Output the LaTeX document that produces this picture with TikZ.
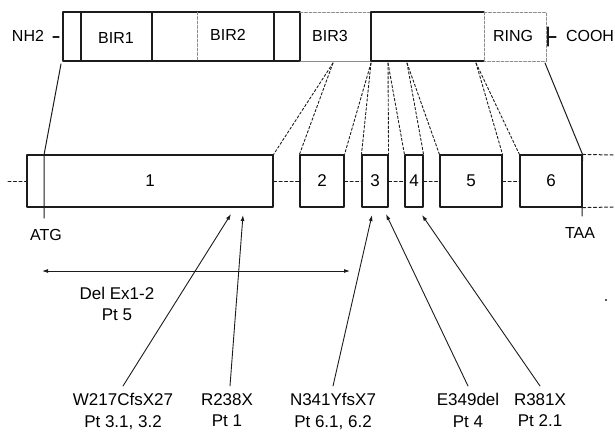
\documentclass[tikz,border=0pt]{standalone}
\usepackage{fontspec}
\setmainfont{Liberation Sans}
\usetikzlibrary{arrows.meta}

\begin{document}
\begin{tikzpicture}[
    >=Latex,
    line cap=round,
    line join=round,
    x=1pt,
    y=-1pt,
    font=\fontsize{16}{19}\selectfont
]

% =========================================================
% Colors
% =========================================================
\definecolor{inkline}{RGB}{28,28,28}
\definecolor{fadeline}{RGB}{140,140,140}

% =========================================================
% Styles
% =========================================================
\tikzset{
    barline/.style={inkline,line width=1.1pt},
    faintline/.style={fadeline,line width=0.8pt,dash pattern=on 3pt off 1.5pt},
    exonbox/.style={draw=inkline,line width=1.1pt,minimum height=52pt,
        inner sep=0pt,font=\fontsize{17}{20}\selectfont},
    intron/.style={inkline,line width=1pt,dash pattern=on 3pt off 2.5pt},
    splice/.style={inkline,line width=0.9pt,dash pattern=on 2.5pt off 2pt},
    endline/.style={inkline,line width=1pt},
    mutarrow/.style={inkline,line width=0.9pt,-{Latex[length=6pt,width=4pt]}},
    delarrow/.style={inkline,line width=0.9pt,
        {Latex[length=6pt,width=4pt]}-{Latex[length=6pt,width=4pt]}},
    mutlabel/.style={align=center,inner sep=0pt,font=\fontsize{17}{21.5}\selectfont}
}

\useasboundingbox (0,0) rectangle (615,434);

% =========================================================
% Protein: domain bar
% =========================================================
\draw[barline] (63,12) rectangle (300,61);
\draw[barline] (81,12) -- (81,61);
\draw[barline] (152,12) -- (152,61);
\draw[barline] (274,12) -- (274,61);
\draw[faintline] (197,12) -- (197,61);
\draw[faintline] (300,12) -- (371,12);
\draw[fadeline,line width=0.9pt] (300,61) -- (371,61);
\draw[barline] (484,12) -- (371,12) -- (371,61) -- (484,61);
\draw[faintline] (484,12) -- (546,12) -- (546,61) -- (484,61);
\draw[faintline] (484,12) -- (484,61);

\node (nh2) at (28,36) {NH2};
\draw[barline] (53,37) -- (59,37);
\node (bir1) at (116,38) {BIR1};
\node (bir2) at (228,35) {BIR2};
\node (bir3) at (330,36) {BIR3};
\node (ring) at (513,36) {RING};
\draw[barline] (548,27) -- (548,46);
\draw[barline] (548,37) -- (556,37);
\node (cooh) at (590,36) {COOH};

% =========================================================
% Gene: exons
% =========================================================
\node[exonbox,minimum width=246pt] (ex1) at (150,181) {1};
\node[exonbox,minimum width=44pt]  (ex2) at (322,181) {2};
\node[exonbox,minimum width=26pt]  (ex3) at (375,181) {3};
\node[exonbox,minimum width=18pt]  (ex4) at (414,181) {4};
\node[exonbox,minimum width=62pt]  (ex5) at (471,181) {5};
\node[exonbox,minimum width=62pt]  (ex6) at (551,181) {6};

% introns
\coordinate (lend) at (8,181);
\coordinate (rtop) at (615,155);
\coordinate (rbot) at (615,207);
\draw[intron] (lend) -- (ex1.west);
\draw[intron] (ex1.east) -- (ex2.west);
\draw[intron] (ex2.east) -- (ex3.west);
\draw[intron] (ex3.east) -- (ex4.west);
\draw[intron] (ex4.east) -- (ex5.west);
\draw[intron] (ex5.east) -- (ex6.west);
\draw[intron] (ex6.north east) -- (rtop);
\draw[intron] (ex6.south east) -- (rbot);

% =========================================================
% Protein to exon boundaries
% =========================================================
\coordinate (s0) at (61,64);
\coordinate (s1) at (333,63);
\coordinate (s2) at (371,63);
\coordinate (s3) at (388,63);
\coordinate (s4) at (407,63);
\coordinate (s5) at (476,63);
\coordinate (s6) at (545,63);

\draw[splice] (s1) -- (ex1.north east);
\draw[splice] (s1) -- (ex2.north west);
\draw[splice] (s2) -- (ex2.north east);
\draw[splice] (s2) -- (ex3.north west);
\draw[splice] (s3) -- (ex3.north east);
\draw[splice] (s3) -- (ex4.north west);
\draw[splice] (s4) -- (ex4.north east);
\draw[splice] (s4) -- (ex5.north west);
\draw[splice] (s5) -- (ex5.north east);
\draw[splice] (s5) -- (ex6.north west);

% start and stop codons
\coordinate (atgin) at (44,155);
\coordinate (atgend) at (44,218);
\coordinate (taaend) at (582,216);
\draw[endline] (s0) -- (atgin) -- (atgend);
\draw[endline] (s6) -- (ex6.north east) -- (taaend);
\node (atg) at (46,235) {ATG};
\node (taa) at (580,233) {TAA};

% =========================================================
% Mutations
% =========================================================
\draw[delarrow] (42,271) coordinate (dl) -- (350,271) coordinate (dr);
\node[mutlabel] (del) at (117,304) {Del Ex1-2\\Pt 5};

\coordinate (t1) at (231,214);
\coordinate (t2) at (243,215);
\coordinate (t3) at (372,215);
\coordinate (t4) at (386,214);
\coordinate (t5) at (422,215);

\node[mutlabel,anchor=north] (m1) at (123,393) {W217CfsX27\\Pt 3.1, 3.2};
\node[mutlabel,anchor=north] (m2) at (227,393) {R238X\\Pt 1};
\node[mutlabel,anchor=north] (m3) at (333,393) {N341YfsX7\\Pt 6.1, 6.2};
\node[mutlabel,anchor=north] (m4) at (468,393) {E349del\\Pt 4};
\node[mutlabel,anchor=north] (m5) at (540,393) {R381X\\Pt 2.1};

\draw[mutarrow] ([yshift=7pt]m1.north) -- (t1);
\draw[mutarrow] ([xshift=3pt,yshift=7pt]m2.north) -- (t2);
\draw[mutarrow] ([yshift=7pt]m3.north) -- (t3);
\draw[mutarrow] ([yshift=7pt]m4.north) -- (t4);
\draw[mutarrow] ([yshift=7pt]m5.north) -- (t5);

% speck
\fill[inkline] (606,300) circle (1.2pt);

\end{tikzpicture}
\end{document}
